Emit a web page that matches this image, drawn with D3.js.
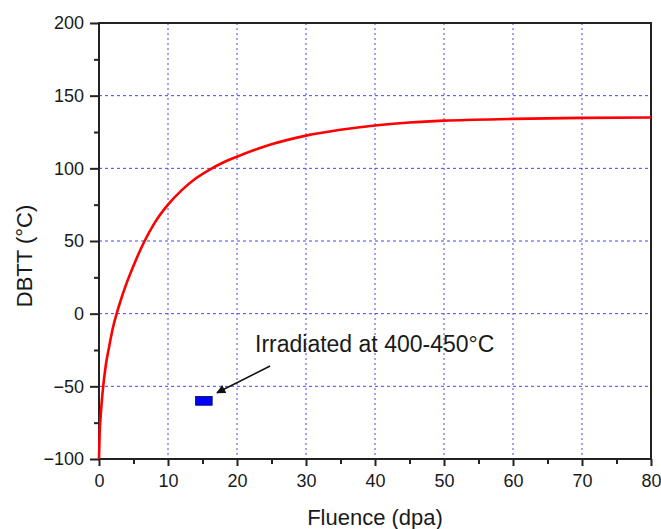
<!DOCTYPE html>
<html lang="en">
<head>
  <meta charset="UTF-8">
  <title>DBTT vs fluence</title>
  <style>
    body { margin: 0; background: #fff; }
    text { font-family: "Liberation Sans", Arial, sans-serif; fill: #1a1a1a; }
  </style>
</head>
<body>
<svg width="661" height="529"></svg>

<script src="https://cdn.jsdelivr.net/npm/d3@7/dist/d3.min.js"></script>
<script>
  // curve: fluence (dpa) -> DBTT (°C)
  var fluence = [0, 0.1, 0.25, 0.5, 1, 1.5, 2, 2.5, 3, 4, 5, 6.5, 8, 10, 12, 14, 16, 18, 20, 25, 30, 35, 40, 45, 50, 60, 70, 80];
  var dbtt = [-100, -82, -70, -55, -35, -22, -10, -1, 7, 21, 33, 49, 62, 75, 85, 93, 99, 104, 108, 116.5, 122.5, 126.5, 129.5, 131.5, 132.8, 134, 134.7, 135];
  // the irradiated point (box) and its note
  var boxX = [14, 16.4], boxY = [-57, -63];
  var noteText = 'Irradiated at 400-450°C';
  var arrowFrom = [24.8, -36], arrowTo = [17.1, -54.4];
  var xTicks = [0, 10, 20, 30, 40, 50, 60, 70, 80];
  var yTicks = [-100, -50, 0, 50, 100, 150, 200];

  var marge = {top: 23, bottom: 70, left: 99, right: 10};
  var svg = d3.select('svg'), width = +svg.attr('width'), height = +svg.attr('height');
  var w = width - marge.left - marge.right, h = height - marge.top - marge.bottom;
  var g = svg.append('g').attr('transform', `translate(${marge.left}, ${marge.top})`);

  var x = d3.scaleLinear().domain([0, 80]).range([0, w]);
  var y = d3.scaleLinear().domain([-100, 200]).range([h, 0]);

  // grid
  var gridColor = '#4646f0';
  g.selectAll('.vg').data(xTicks.slice(1, -1)).enter().append('line')
    .attr('x1', d => x(d)).attr('x2', d => x(d)).attr('y1', 0).attr('y2', h)
    .attr('stroke', gridColor).attr('stroke-dasharray', '2,3').attr('stroke-width', 1);
  g.selectAll('.hg').data(yTicks.slice(1, -1)).enter().append('line')
    .attr('y1', d => y(d)).attr('y2', d => y(d)).attr('x1', 0).attr('x2', w)
    .attr('stroke', gridColor).attr('stroke-dasharray', '3,3').attr('stroke-width', 1);

  // minor ticks
  var xMinor = d3.range(5, 80, 10), yMinor = d3.range(-75, 200, 50);
  g.append('g').attr('transform', `translate(0, ${h})`)
    .call(d3.axisBottom(x).tickValues(xMinor).tickSize(5).tickFormat(''))
    .call(a => a.select('.domain').remove());
  g.append('g')
    .call(d3.axisLeft(y).tickValues(yMinor).tickSize(5).tickFormat(''))
    .call(a => a.select('.domain').remove());

  // major ticks + labels
  var xAxis = g.append('g').attr('transform', `translate(0, ${h})`)
    .call(d3.axisBottom(x).tickValues(xTicks).tickSize(7).tickPadding(8));
  var yAxis = g.append('g')
    .call(d3.axisLeft(y).tickValues(yTicks).tickSize(9).tickPadding(6));
  [xAxis, yAxis].forEach(function (a) {
    a.selectAll('text').style('font-size', '18px').attr('fill', '#1a1a1a');
    a.select('.domain').remove();
  });
  svg.selectAll('.tick line').attr('stroke', '#222').attr('stroke-width', 2);

  // frame
  g.append('rect').attr('x', 0).attr('y', 0).attr('width', w).attr('height', h)
    .attr('fill', 'none').attr('stroke', '#222').attr('stroke-width', 2);

  // curve
  var line = d3.line().x(d => x(d[0])).y(d => y(d[1])).curve(d3.curveMonotoneX);
  g.append('path').datum(d3.zip(fluence, dbtt)).attr('d', line)
    .attr('fill', 'none').attr('stroke', '#ff0000').attr('stroke-width', 2.6);

  // box
  g.append('rect')
    .attr('x', x(boxX[0])).attr('y', y(boxY[0]))
    .attr('width', x(boxX[1]) - x(boxX[0])).attr('height', y(boxY[1]) - y(boxY[0]))
    .attr('fill', '#0000ff').attr('stroke', '#000050').attr('stroke-width', 0.8);

  // arrow
  svg.append('defs').append('marker').attr('id', 'head')
    .attr('viewBox', '0 0 10 10').attr('refX', 9).attr('refY', 5)
    .attr('markerWidth', 13).attr('markerHeight', 9).attr('markerUnits', 'userSpaceOnUse')
    .attr('orient', 'auto')
    .append('path').attr('d', 'M0,0 L10,5 L0,10 z').attr('fill', '#111');
  g.append('line')
    .attr('x1', x(arrowFrom[0])).attr('y1', y(arrowFrom[1]))
    .attr('x2', x(arrowTo[0])).attr('y2', y(arrowTo[1]))
    .attr('stroke', '#111').attr('stroke-width', 1.5).attr('marker-end', 'url(#head)');

  g.append('text').attr('x', 156).attr('y', 329).style('font-size', '23px').text(noteText);

  // axis titles
  svg.append('text').attr('x', marge.left + w / 2).attr('y', 525)
    .attr('text-anchor', 'middle').style('font-size', '22px').text('Fluence (dpa)');
  svg.append('text').attr('transform', 'translate(32, 256) rotate(-90)')
    .attr('text-anchor', 'middle').style('font-size', '22px').text('DBTT (°C)');
</script>
</body>
</html>
